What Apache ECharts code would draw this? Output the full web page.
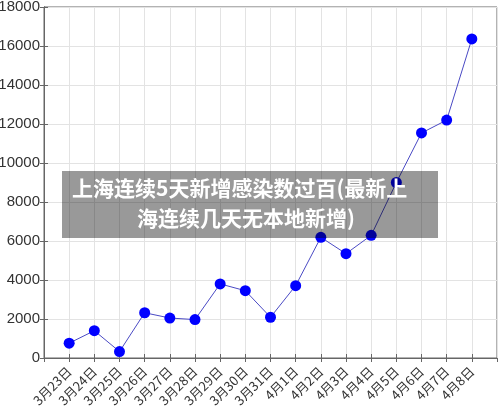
<!DOCTYPE html>
<html>
<head>
<meta charset="utf-8">
<script src="https://cdn.jsdelivr.net/npm/echarts@6/dist/echarts.min.js"></script>
<style>
  html, body { margin: 0; padding: 0; background: #fff; }
  #chart { width: 500px; height: 410px; }
</style>
</head>
<body>
<div id="chart"></div>
<script>
const categories = ['3月23日', '3月24日', '3月25日', '3月26日', '3月27日', '3月28日', '3月29日', '3月30日', '3月31日',
  '4月1日', '4月2日', '4月3日', '4月4日', '4月5日', '4月6日', '4月7日', '4月8日'];
const cases = [760, 1400, 330, 2320, 2050, 1970, 3800, 3450, 2090, 3710, 6190, 5350, 6290, 9000, 11540, 12200, 16360];
const overlayLines = ['上海连续5天新增感染数过百(最新上', '海连续几天无本地新增)'];

const chart = echarts.init(document.getElementById('chart'));

// 点位放在 1..17，两侧各留一格
const points = cases.map((v, i) => [i + 1, v]);

const axisColor = '#666';
const gridColor = '#e3e3e3';

const option = {
  animation: false,
  grid: {
    left: 44,
    right: 3,
    top: 7,
    bottom: 52,
    outerBoundsMode: 'none',
    containLabel: false,
    show: true,
    borderColor: axisColor,
    borderWidth: 1
  },
  xAxis: [
    {
      type: 'value',
      min: 0,
      max: 18,
      interval: 1,
      axisLine: { show: true, lineStyle: { color: axisColor } },
      axisTick: { show: true, inside: true, length: 4, lineStyle: { color: axisColor } },
      splitLine: { show: true, lineStyle: { color: gridColor } },
      axisLabel: {
        rotate: 45,
        margin: 11,
        color: '#333',
        fontSize: 13,
        fontFamily: 'Noto Sans CJK SC',
        showMinLabel: false,
        showMaxLabel: false,
        hideOverlap: false,
        formatter: function (v) {
          return categories[v - 1] || '';
        }
      }
    },
    {
      type: 'value',
      position: 'top',
      min: 0,
      max: 18,
      interval: 1,
      axisLine: { show: true, lineStyle: { color: axisColor } },
      axisTick: { show: true, inside: true, length: 4, lineStyle: { color: axisColor } },
      splitLine: { show: false },
      axisLabel: { show: false }
    }
  ],
  yAxis: [
    {
      type: 'value',
      min: 0,
      max: 18000,
      interval: 2000,
      axisLine: { show: true, lineStyle: { color: axisColor } },
      axisTick: { show: true, inside: true, length: 4, lineStyle: { color: axisColor } },
      splitLine: { show: true, lineStyle: { color: gridColor } },
      axisLabel: {
        color: '#333',
        fontSize: 15,
        margin: 4,
        fontFamily: 'Liberation Sans',
        formatter: function (v) { return String(v); }
      }
    },
    {
      type: 'value',
      position: 'right',
      min: 0,
      max: 18000,
      interval: 2000,
      axisLine: { show: true, lineStyle: { color: axisColor } },
      axisTick: { show: true, inside: true, length: 4, lineStyle: { color: axisColor } },
      splitLine: { show: false },
      axisLabel: { show: false }
    }
  ],
  series: [
    {
      type: 'line',
      data: points,
      symbol: 'circle',
      symbolSize: 11,
      lineStyle: { color: '#4a4ac4', width: 1 },
      itemStyle: { color: '#0000ff' }
    }
  ],
  graphic: [
    {
      type: 'rect',
      z: 100,
      shape: { x: 62, y: 171, width: 376, height: 67 },
      style: { fill: 'rgba(0,0,0,0.4)' }
    },
    {
      type: 'text',
      z: 101,
      x: 72,
      y: 188,
      style: {
        text: overlayLines[0],
        fill: '#fff',
        font: 'bold 21px "Noto Sans CJK SC"',
        verticalAlign: 'middle'
      }
    },
    {
      type: 'text',
      z: 101,
      x: 137,
      y: 218,
      style: {
        text: overlayLines[1],
        fill: '#fff',
        font: 'bold 21px "Noto Sans CJK SC"',
        verticalAlign: 'middle'
      }
    }
  ]
};

chart.setOption(option);
</script>
</body>
</html>
